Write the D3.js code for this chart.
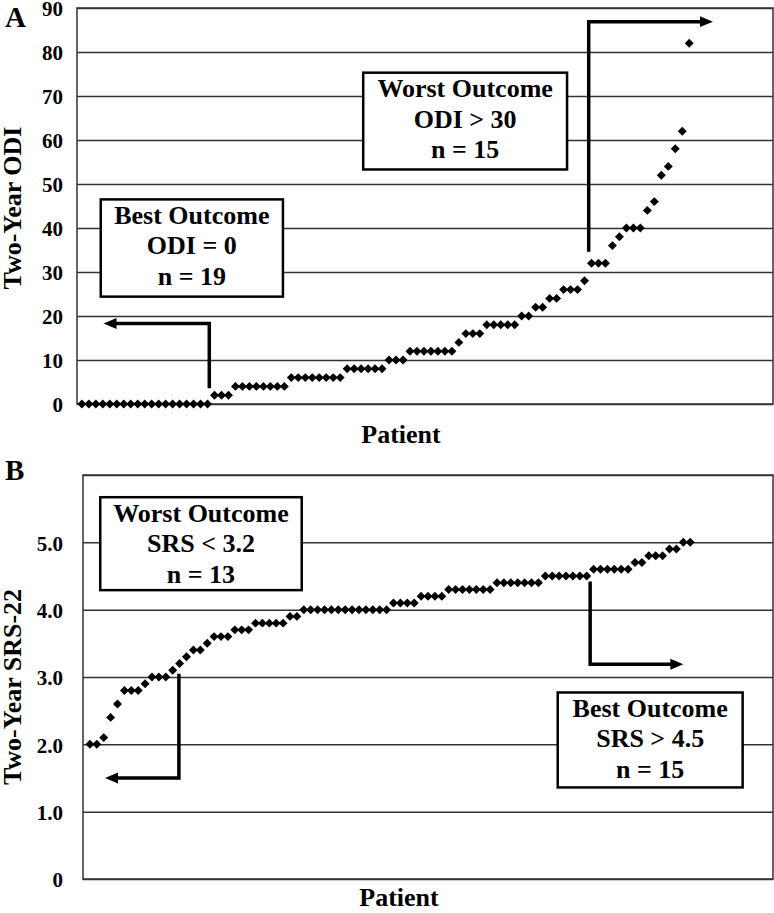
<!DOCTYPE html>
<html>
<head>
<meta charset="utf-8">
<script src="https://cdn.jsdelivr.net/npm/d3@7"></script>
<style>
  body { margin: 0; background: #fff; }
  text { font-family: "Liberation Serif", "Times New Roman", serif; font-weight: bold; fill: #000; }
</style>
</head>
<body>
<div id="chart"></div>
<script>
// two-year ODI per patient, sorted (panel A)
let odiValues = [
  0, 0, 0, 0, 0, 0, 0, 0, 0, 0, 0, 0, 0, 0, 0, 0, 0, 0, 0,
  2, 2, 2,
  4, 4, 4, 4, 4, 4, 4, 4,
  6, 6, 6, 6, 6, 6, 6, 6,
  8, 8, 8, 8, 8, 8,
  10, 10, 10,
  12, 12, 12, 12, 12, 12, 12,
  14, 16, 16, 16,
  18, 18, 18, 18, 18,
  20, 20, 22, 22, 24, 24,
  26, 26, 26, 28,
  32, 32, 32, 36, 38,
  40, 40, 40, 44, 46, 52, 54, 58, 62, 82
];
// two-year SRS-22 per patient, sorted (panel B)
let srsValues = [
  2.0, 2.0, 2.1, 2.4, 2.6, 2.8, 2.8, 2.8, 2.9, 3.0, 3.0, 3.0, 3.1,
  3.2, 3.3, 3.4, 3.4, 3.5, 3.6, 3.6, 3.6, 3.7, 3.7, 3.7,
  3.8, 3.8, 3.8, 3.8, 3.8, 3.9, 3.9,
  4.0, 4.0, 4.0, 4.0, 4.0, 4.0, 4.0, 4.0, 4.0, 4.0, 4.0, 4.0, 4.0,
  4.1, 4.1, 4.1, 4.1,
  4.2, 4.2, 4.2, 4.2,
  4.3, 4.3, 4.3, 4.3, 4.3, 4.3, 4.3,
  4.4, 4.4, 4.4, 4.4, 4.4, 4.4, 4.4,
  4.5, 4.5, 4.5, 4.5, 4.5, 4.5, 4.5,
  4.6, 4.6, 4.6, 4.6, 4.6, 4.6,
  4.7, 4.7, 4.8, 4.8, 4.8, 4.9, 4.9, 5.0, 5.0
];

let odiTicks = [0, 10, 20, 30, 40, 50, 60, 70, 80, 90];
let odiTickLabels = ['0', '10', '20', '30', '40', '50', '60', '70', '80', '90'];
let srsTicks = [0, 1, 2, 3, 4, 5, 6];
let srsTickLabels = ['0', '1.0', '2.0', '3.0', '4.0', '5.0', ''];

let odiBestText = ['Best Outcome', 'ODI = 0', 'n = 19'];
let odiWorstText = ['Worst Outcome', 'ODI > 30', 'n = 15'];
let srsWorstText = ['Worst Outcome', 'SRS < 3.2', 'n = 13'];
let srsBestText = ['Best Outcome', 'SRS > 4.5', 'n = 15'];

let svg = d3.select('#chart').append('svg')
  .attr('width', 774)
  .attr('height', 913);

// arrow head
svg.append('defs').append('marker')
  .attr('id', 'head')
  .attr('markerUnits', 'userSpaceOnUse')
  .attr('viewBox', '0 -6 14 12')
  .attr('markerWidth', 14)
  .attr('markerHeight', 12)
  .attr('refX', 3)
  .attr('refY', 0)
  .attr('orient', 'auto')
  .append('path')
  .attr('d', 'M0,-5.5L13,0L0,5.5Z')
  .attr('fill', '#000');

// panel settings (layout only)
let panelA = {
  letter: 'A', letterY: 27,
  left: 77, right: 773, top: 8, bottom: 404,
  xDomain: [0.3, 100], yDomain: [0, 90],
  values: odiValues, ticks: odiTicks, tickLabels: odiTickLabels, tickPad: 14,
  yTitle: 'Two-Year ODI', yTitleY: 208,
  xTitleX: 401, xTitleY: 443,
  // arrows & boxes in data coordinates
  arrows: [
    [[19.25, 3.6], [19.25, 18.3], [4.1, 18.3]],
    [[73.6, 34.6], [73.6, 86.9], [91.4, 86.9]]
  ],
  boxes: [
    { x: [3.7, 29.8], y: [46.5, 24.4], lines: odiBestText },
    { x: [41.3, 70.5], y: [75.3, 53.3], lines: odiWorstText }
  ]
};
let panelB = {
  letter: 'B', letterY: 480,
  left: 83, right: 773, top: 475, bottom: 879,
  xDomain: [0, 100], yDomain: [0, 6],
  values: srsValues, ticks: srsTicks, tickLabels: srsTickLabels, tickPad: 20,
  yTitle: 'Two-Year SRS-22', yTitleY: 687,
  xTitleX: 399, xTitleY: 906,
  arrows: [
    [[13.9, 3.05], [13.9, 1.5], [3.2, 1.5]],
    [[73.5, 4.42], [73.5, 3.19], [87.0, 3.19]]
  ],
  boxes: [
    { x: [2.5, 31.7], y: [5.67, 4.29], lines: srsWorstText },
    { x: [68.8, 95.6], y: [2.77, 1.36], lines: srsBestText }
  ]
};

drawPanel(panelA);
drawPanel(panelB);

function drawPanel(p) {
  let x = d3.scaleLinear().domain(p.xDomain).range([p.left, p.right]);
  let y = d3.scaleLinear().domain(p.yDomain).range([p.bottom, p.top]);
  let g = svg.append('g');

  // gridlines + tick labels
  let axis = g.append('g')
    .attr('transform', 'translate(' + p.left + ',0)')
    .call(d3.axisLeft(y)
      .tickValues(p.ticks)
      .tickSize(-(p.right - p.left))
      .tickPadding(p.tickPad)
      .tickFormat((d, i) => p.tickLabels[i]));
  axis.select('.domain').remove();
  axis.selectAll('line').attr('stroke', '#333').attr('stroke-width', 1.5);
  axis.selectAll('text')
    .attr('fill', '#000')
    .attr('dy', '0.38em')
    .style('font-size', '21px')
    .style('font-family', '"Liberation Serif", serif')
    .style('font-weight', 'bold');

  // frame
  g.append('rect')
    .attr('x', p.left).attr('y', p.top)
    .attr('width', p.right - p.left).attr('height', p.bottom - p.top)
    .attr('fill', 'none').attr('stroke', '#333').attr('stroke-width', 1.5);

  // points
  g.selectAll('path.pt')
    .data(p.values)
    .enter()
    .append('path')
    .attr('class', 'pt')
    .attr('d', d3.symbol().type(d3.symbolSquare).size(40))
    .attr('transform', (d, i) => 'translate(' + x(i + 1) + ',' + y(d) + ') rotate(45)')
    .attr('fill', '#000');

  // arrows
  p.arrows.forEach(function(a) {
    let pts = a.map(q => [x(q[0]), y(q[1])]);
    let n = pts.length;
    let last = pts[n - 1], prev = pts[n - 2];
    let dx = last[0] - prev[0], dy = last[1] - prev[1];
    let len = Math.sqrt(dx * dx + dy * dy);
    pts[n - 1] = [last[0] - dx / len * 10, last[1] - dy / len * 10];
    g.append('path')
      .attr('d', d3.line()(pts))
      .attr('fill', 'none')
      .attr('stroke', '#000')
      .attr('stroke-width', 3.5)
      .attr('marker-end', 'url(#head)');
  });

  // boxes
  p.boxes.forEach(function(b) {
    let bx = x(b.x[0]), bw = x(b.x[1]) - x(b.x[0]);
    let by = y(b.y[0]), bh = y(b.y[1]) - y(b.y[0]);
    g.append('rect')
      .attr('x', bx).attr('y', by).attr('width', bw).attr('height', bh)
      .attr('fill', '#fff').attr('stroke', '#000').attr('stroke-width', 2.5);
    g.selectAll(null)
      .data(b.lines)
      .enter()
      .append('text')
      .attr('x', bx + bw / 2)
      .attr('y', (d, i) => by + 24.5 + i * 30.5)
      .attr('text-anchor', 'middle')
      .style('font-size', '26px')
      .text(d => d);
  });

  // titles
  g.append('text')
    .attr('x', 5).attr('y', p.letterY)
    .style('font-size', '29px')
    .text(p.letter);
  g.append('text')
    .attr('transform', 'translate(21,' + p.yTitleY + ') rotate(-90)')
    .attr('text-anchor', 'middle')
    .style('font-size', '26px')
    .text(p.yTitle);
  g.append('text')
    .attr('x', p.xTitleX).attr('y', p.xTitleY)
    .attr('text-anchor', 'middle')
    .style('font-size', '26px')
    .text('Patient');
}
</script>
</body>
</html>
